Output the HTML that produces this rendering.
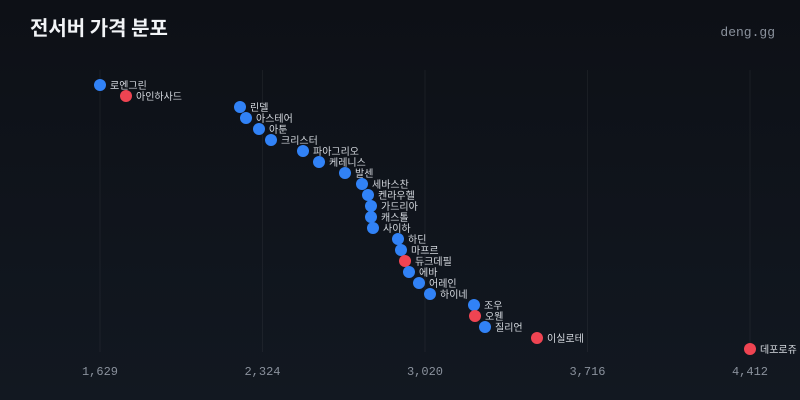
<!DOCTYPE html>
<html><head><meta charset="utf-8"><style>
body{margin:0;width:800px;height:400px;overflow:hidden;background:linear-gradient(#0d1016,#121821);font-family:"Liberation Sans","Noto Sans CJK KR",sans-serif}
svg{display:block}
</style></head><body>
<svg width="800" height="400" xmlns="http://www.w3.org/2000/svg">
<text x="30" y="35" fill="#f2f4f7" font-size="20" font-weight="bold" font-family="Noto Sans CJK KR, sans-serif">전서버 가격 분포</text>
<text x="775" y="36" fill="#8a919c" font-size="13" text-anchor="end" font-family="Liberation Mono, monospace">deng.gg</text>
<g stroke="#ffffff" stroke-opacity="0.05" stroke-width="1">
<line x1="100" y1="70" x2="100" y2="352"/><line x1="262.5" y1="70" x2="262.5" y2="352"/><line x1="425" y1="70" x2="425" y2="352"/><line x1="587.5" y1="70" x2="587.5" y2="352"/><line x1="750" y1="70" x2="750" y2="352"/>
</g>
<g fill="#8a919c" font-size="12" text-anchor="middle" font-family="Liberation Mono, monospace">
<text x="100" y="375">1,629</text><text x="262.5" y="375">2,324</text><text x="425" y="375">3,020</text><text x="587.5" y="375">3,716</text><text x="750" y="375">4,412</text>
</g>
<g id="pts" font-size="10" fill="#d5d9df" font-family="Noto Sans CJK KR, sans-serif"></g>
</svg>
<script>
var d=[["로엔그린",100,0],["아인하사드",126,1],["린델",240,0],["아스테어",246,0],["아툰",259,0],["크리스터",271,0],["파아그리오",303,0],["케레니스",319,0],["발센",345,0],["세바스찬",362,0],["켄라우헬",368,0],["가드리아",371,0],["캐스톨",371,0],["사이하",373,0],["하딘",398,0],["마프르",401,0],["듀크데필",405,1],["에바",409,0],["어레인",419,0],["하이네",430,0],["조우",474,0],["오웬",475,1],["질리언",485,0],["이실로테",537,1],["데포로쥬",750,1]];
var g=document.getElementById('pts'),s='';
d.forEach(function(p,i){var y=85+i*11;s+='<circle cx="'+p[1]+'" cy="'+y+'" r="6" fill="'+(p[2]?'#ef4452':'#3182f6')+'"/><text x="'+(p[1]+10)+'" y="'+(y+4)+'">'+p[0]+'</text>';});
g.innerHTML=s;
</script>
</body></html>
